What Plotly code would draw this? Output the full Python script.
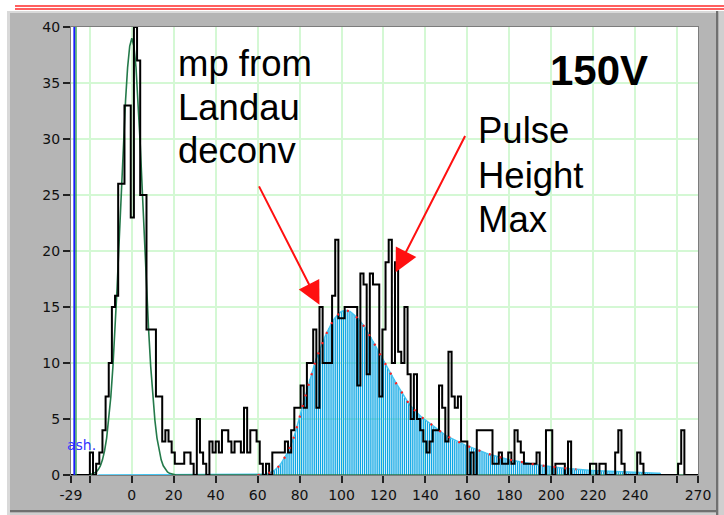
import plotly.graph_objects as go

# ---------------- data ----------------
bin_start = -29.0
bin_width = 1.5
counts = [
    0, 0, 0, 0, 0, 0, 2, 0,
    1, 2, 4, 7, 10, 15, 16, 26,
    26, 33, 33, 23, 40, 37, 25, 25,
    13, 13, 13, 7, 7, 3, 4, 3,
    2, 1, 1, 1, 2, 2, 1, 0,
    5, 2, 1, 0, 3, 2, 3, 2,
    4, 4, 3, 2, 3, 3, 2, 6,
    2, 4, 4, 3, 1, 0, 1, 0,
    2, 2, 2, 2, 3, 2, 4, 6,
    6, 8, 6, 10, 10, 13, 6, 15,
    10, 10, 10, 16, 21, 14, 14, 15,
    15, 15, 15, 8, 18, 17, 9, 18,
    17, 17, 7, 13, 19, 21, 10, 19,
    11, 10, 15, 9, 5, 9, 5, 4,
    3, 2, 3, 4, 4, 8, 6, 3,
    11, 7, 6, 7, 3, 3, 0, 2,
    0, 4, 4, 4, 4, 4, 1, 1,
    2, 1, 1, 2, 1, 4, 3, 2,
    1, 1, 1, 1, 2, 0, 0, 4,
    4, 0, 1, 1, 1, 0, 3, 0,
    0, 0, 0, 0, 0, 1, 1, 0,
    1, 1, 0, 0, 0, 2, 4, 1,
    0, 0, 0, 0, 2, 1, 0, 0,
    0, 0, 0, 0, 0, 0, 0, 0,
    0, 1, 4, 0, 0, 0, 0, 0,
]

# pedestal gaussian fit (green)
gauss_x = [-29, -21, -20, -19, -18, -17, -16, -15, -14, -13, -12, -11, -10, -9, -8, -7, -6,
           -5, -4, -3, -2, -1, 0, 1, 2, 3, 4, 5, 6, 7, 8, 9, 10, 11, 12, 13, 14, 15,
           16, 17, 18, 19, 20, 21, 270]
gauss_y = [0, 0, 0.04, 0.08, 0.15, 0.27, 0.48, 0.82, 1.35, 2.15, 3.3, 4.9, 7.0, 9.7, 13.0, 16.8, 21.0,
           25.4, 29.6, 33.4, 36.4, 38.3, 39.0, 38.3, 36.4, 33.4, 29.6, 25.4, 21.0, 16.8, 13.0, 9.7, 7.0,
           4.9, 3.3, 2.15, 1.35, 0.82, 0.48, 0.27, 0.15, 0.08, 0.04, 0, 0]

# Landau fit (cyan sticks), one value per unit starting at 60
landau_start = 60
landau_y = [
    0, 0, 0.03, 0.06, 0.1, 0.15, 0.2, 0.29, 0.4, 0.56,
    0.75, 0.98, 1.25, 1.56, 1.9, 2.28, 2.7, 3.23, 3.8, 4.43,
    5.1, 5.8, 6.5, 7.2, 7.9, 8.55, 9.2, 9.8, 10.4, 10.9,
    11.4, 11.85, 12.3, 12.7, 13.1, 13.45, 13.8, 14.05, 14.3, 14.45,
    14.6, 14.65, 14.7, 14.65, 14.6, 14.45, 14.3, 14.12, 13.95, 13.72,
    13.5, 13.2, 12.9, 12.6, 12.3, 11.95, 11.6, 11.25, 10.9, 10.55,
    10.2, 9.85, 9.5, 9.2, 8.9, 8.55, 8.2, 7.9, 7.6, 7.25,
    6.9, 6.65, 6.4, 6.17, 5.95, 5.75, 5.55, 5.37, 5.2, 5.05,
    4.9, 4.75, 4.6, 4.45, 4.3, 4.15, 4.0, 3.87, 3.75, 3.62,
    3.5, 3.4, 3.3, 3.2, 3.1, 3.0, 2.9, 2.82, 2.75, 2.67,
    2.6, 2.52, 2.45, 2.37, 2.3, 2.22, 2.15, 2.07, 2.0, 1.94,
    1.88, 1.82, 1.76, 1.7, 1.65, 1.6, 1.55, 1.5, 1.45, 1.4,
    1.36, 1.32, 1.28, 1.24, 1.2, 1.16, 1.13, 1.1, 1.06, 1.03,
    1.0, 0.97, 0.94, 0.91, 0.88, 0.85, 0.83, 0.8, 0.78, 0.75,
    0.73, 0.71, 0.69, 0.67, 0.65, 0.63, 0.61, 0.59, 0.57, 0.55,
    0.54, 0.52, 0.51, 0.49, 0.48, 0.46, 0.45, 0.43, 0.42, 0.41,
    0.4, 0.38, 0.37, 0.36, 0.35, 0.34, 0.33, 0.32, 0.31, 0.3,
    0.29, 0.28, 0.27, 0.26, 0.26, 0.25, 0.24, 0.23, 0.23, 0.22,
    0.21, 0.2, 0.2, 0.19, 0.19, 0.18, 0.18, 0.17, 0.17, 0.16,
    0.16, 0.15, 0.15,
]
landau_baseline_start = -16
red_fit_end = 212

cursor_blue_x = -27.4
cursor_green_x = -26.6

x_tickvals = [-29, -20, 0, 20, 40, 60, 80, 100, 120, 140, 160, 180, 200, 220, 240, 260, 270]
x_ticktext = ["-29", "", "0", "20", "40", "60", "80", "100", "120", "140", "160", "180",
              "200", "220", "240", "", "270"]
y_tickvals = [0, 5, 10, 15, 20, 25, 30, 35, 40]

# ---------------- derived ----------------
edges = [bin_start + bin_width * i for i in range(len(counts) + 1)]
hist_x = edges
hist_y = counts + [counts[-1]]
landau_x = [landau_start + i for i in range(len(landau_y))]
stick_x, stick_y = [], []
for x, y in zip(landau_x, landau_y):
    stick_x += [x, x, None]
    stick_y += [0, y, None]
red_x = [x for x in landau_x if x <= red_fit_end]
red_y = [y for x, y in zip(landau_x, landau_y) if x <= red_fit_end]

W, H = 724, 515
L, R, T, B = 71, 26, 27, 40
PW, PH = W - L - R, H - T - B


def px(xp):
    return (xp - L) / PW


def py(yp):
    return (H - B - yp) / PH


fig = go.Figure()

fig.add_trace(go.Scatter(x=stick_x, y=stick_y, mode="lines",
                         line=dict(color="#0ca6e4", width=1.3),
                         hoverinfo="skip", showlegend=False))
fig.add_trace(go.Scatter(x=[landau_baseline_start] + landau_x, y=[0] + landau_y, mode="lines",
                         line=dict(color="#45c4f0", width=1.5),
                         hoverinfo="skip", showlegend=False))
fig.add_trace(go.Scatter(x=gauss_x, y=gauss_y, mode="lines",
                         line=dict(color="#247a4a", width=1.6),
                         hoverinfo="skip", showlegend=False))
fig.add_trace(go.Scatter(x=hist_x, y=hist_y, mode="lines", line_shape="hv",
                         line=dict(color="#000000", width=2),
                         hoverinfo="skip", showlegend=False))
fig.add_trace(go.Scatter(x=red_x, y=red_y, mode="lines",
                         line=dict(color="#ff2020", width=2.2, dash="2px,9px"),
                         hoverinfo="skip", showlegend=False))
fig.add_trace(go.Scatter(x=[cursor_blue_x, cursor_blue_x], y=[0, 40], mode="lines",
                         line=dict(color="#1a1aff", width=2),
                         hoverinfo="skip", showlegend=False))
fig.add_trace(go.Scatter(x=[cursor_green_x, cursor_green_x], y=[0, 40], mode="lines",
                         line=dict(color="#1f9a3f", width=1.2),
                         hoverinfo="skip", showlegend=False))

axis_common = dict(showgrid=True, gridcolor="#d4f8d4", gridwidth=1.5, zeroline=False,
                   showline=True, linecolor="#7c7c7c", linewidth=1, mirror=True,
                   ticks="outside", ticklen=7, tickwidth=1.5, tickcolor="#222222",
                   tickfont=dict(family="DejaVu Sans", size=14, color="#111111"))

fig.update_layout(
    width=W, height=H,
    margin=dict(l=L, r=R, t=T, b=B, pad=0),
    paper_bgcolor="#b5b5b5", plot_bgcolor="#ffffff",
    xaxis=dict(range=[-29, 270], tickmode="array", tickvals=x_tickvals, ticktext=x_ticktext,
               **axis_common),
    yaxis=dict(range=[0, 40], tickmode="array", tickvals=y_tickvals, **axis_common),
    showlegend=False,
)

shapes = [
    dict(type="rect", xref="paper", yref="paper", x0=px(0), x1=px(W), y0=py(0), y1=py(11),
         fillcolor="#ffffff", line=dict(width=0)),
    dict(type="rect", xref="paper", yref="paper", x0=px(0), x1=px(7), y0=py(0), y1=py(H),
         fillcolor="#ffffff", line=dict(width=0)),
    dict(type="rect", xref="paper", yref="paper", x0=px(7), x1=px(10), y0=py(11), y1=py(H),
         fillcolor="#d9d9d9", line=dict(width=0)),
    dict(type="rect", xref="paper", yref="paper", x0=px(7), x1=px(W), y0=py(11), y1=py(13),
         fillcolor="#d9d9d9", line=dict(width=0)),
    dict(type="line", xref="paper", yref="paper", x0=px(15), x1=px(W), y0=py(6), y1=py(6),
         line=dict(color="#ff2a2a", width=1.5)),
    dict(type="line", xref="paper", yref="paper", x0=px(15), x1=px(W), y0=py(9), y1=py(9),
         line=dict(color="#ff2a2a", width=1.5)),
    dict(type="rect", xref="paper", yref="paper", x0=px(716), x1=px(718.5), y0=py(11), y1=py(H),
         fillcolor="#707070", line=dict(width=0)),
    dict(type="rect", xref="paper", yref="paper", x0=px(718.5), x1=px(W), y0=py(11), y1=py(H),
         fillcolor="#cfcfcf", line=dict(width=0)),
    dict(type="rect", xref="paper", yref="paper", x0=px(10), x1=px(716), y0=py(510), y1=py(512.5),
         fillcolor="#707070", line=dict(width=0)),
    dict(type="rect", xref="paper", yref="paper", x0=px(10), x1=px(716), y0=py(512.5), y1=py(H),
         fillcolor="#cfcfcf", line=dict(width=0)),
]
fig.update_layout(shapes=shapes)

big = dict(family="Liberation Sans, Arial", size=36.5, color="#000000")
anns = []
for text, yc in [("mp from", 63), ("Landau", 107), ("deconv", 150)]:
    anns.append(dict(text=text, xref="paper", yref="paper", x=px(176), y=py(yc),
                     xanchor="left", yanchor="middle", showarrow=False, font=big))
for text, yc in [("Pulse", 130), ("Height", 175), ("Max", 219)]:
    anns.append(dict(text=text, xref="paper", yref="paper", x=px(476), y=py(yc),
                     xanchor="left", yanchor="middle", showarrow=False, font=big))
anns.append(dict(text="<b>150V</b>", xref="paper", yref="paper", x=px(548), y=py(70),
                 xanchor="left", yanchor="middle", showarrow=False,
                 font=dict(family="Liberation Sans, Arial", size=42, color="#000000")))
anns.append(dict(text="ash.", xref="paper", yref="paper", x=px(98), y=py(445),
                 xanchor="right", yanchor="middle", showarrow=False,
                 font=dict(family="DejaVu Sans", size=14, color="#3333ff")))
# red arrows
anns.append(dict(x=89.5, y=15.2, ax=60.3, ay=25.9, xref="x", yref="y", axref="x", ayref="y",
                 text="", showarrow=True, arrowhead=2, arrowsize=2.3, arrowwidth=2,
                 arrowcolor="#ff1010"))
anns.append(dict(x=125.8, y=18.1, ax=159.3, ay=30.4, xref="x", yref="y", axref="x", ayref="y",
                 text="", showarrow=True, arrowhead=2, arrowsize=2.3, arrowwidth=2,
                 arrowcolor="#ff1010"))
fig.update_layout(annotations=anns)

fig.write_html("out.html")
